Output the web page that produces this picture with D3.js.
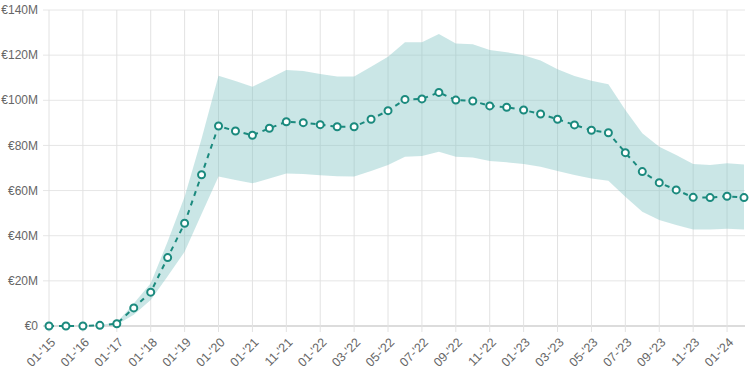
<!DOCTYPE html>
<html>
<head>
<meta charset="utf-8">
<script src="https://cdn.jsdelivr.net/npm/d3@7"></script>
<style>
  body { margin: 0; background: #fff; font-family: "Liberation Sans", Arial, sans-serif; }
  .tick-label { font-size: 12px; fill: #666; }
</style>
</head>
<body>
<script>
var categories = ["01-'15","07-'15","01-'16","07-'16","01-'17","07-'17","01-'18","07-'18","01-'19","07-'19",
  "01-'20","07-'20","01-'21","07-'21","11-'21","12-'21","01-'22","02-'22","03-'22","04-'22",
  "05-'22","06-'22","07-'22","08-'22","09-'22","10-'22","11-'22","12-'22","01-'23","02-'23",
  "03-'23","04-'23","05-'23","06-'23","07-'23","08-'23","09-'23","10-'23","11-'23","12-'23",
  "01-'24","02-'24"];

// millions of euro
var mean = [0,0,0,0.3,1,8,15,30.3,45.5,67,
  88.6,86.4,84.5,87.6,90.5,90.1,89.2,88.3,88.3,91.6,
  95.4,100.4,100.6,103.5,100.1,99.7,97.5,96.9,95.7,93.9,
  91.6,89.1,86.7,85.6,76.8,68.4,63.5,60.3,57.0,56.9,
  57.5,56.9];

var upper = [0,0,0,0.4,1.5,10,18.9,37.4,57.3,83,
  110.9,108.5,106,109.7,113.4,113,111.7,110.5,110.5,114.9,
  119.3,125.7,125.7,129.4,125.2,124.8,122.3,121.3,120,117.6,
  113.7,110.8,108.7,107.1,95.7,85.4,79.4,75.8,71.8,71.3,
  72.1,71.6];

var lower = [0,0,0,0.2,0.6,5,11.5,22,32.9,49.6,
  66.2,64.7,63.2,65.4,67.6,67.3,66.8,66.3,66.2,68.7,
  71.3,75,75.3,77.2,75,74.6,73.1,72.5,71.8,70.6,
  68.7,66.9,65.4,64.4,57.3,50.6,47,44.7,42.8,42.8,
  43.1,42.8];

var yTicks = [0,20,40,60,80,100,120,140];

function chart(){
  var width = 750, height = 374;
  var teal = "#1b8a7e";

  var svg = d3.select("body").append("svg")
      .attr("width", width)
      .attr("height", height);

  var x = d3.scalePoint()
      .domain(categories)
      .range([49, 744]);

  var y = d3.scaleLinear()
      .domain([0, 140])
      .range([326, 10]);

  // horizontal grid
  svg.selectAll(".hgrid")
      .data(yTicks)
    .enter().append("line")
      .attr("class","hgrid")
      .attr("x1", 43)
      .attr("x2", 745)
      .attr("y1", function(d){ return y(d); })
      .attr("y2", function(d){ return y(d); })
      .style("stroke", function(d){ return d === 0 ? "#d0d0d0" : "#e6e6e6"; })
      .style("stroke-width", function(d){ return d === 0 ? 1.5 : 1; });

  // vertical grid, every other category
  var shown = categories.filter(function(d,i){ return i % 2 === 0; });
  svg.selectAll(".vgrid")
      .data(shown)
    .enter().append("line")
      .attr("class","vgrid")
      .attr("x1", function(d){ return x(d); })
      .attr("x2", function(d){ return x(d); })
      .attr("y1", 10)
      .attr("y2", 332)
      .style("stroke", "#e2e2e2")
      .style("stroke-width", 1);

  // y labels
  svg.selectAll(".ylab")
      .data(yTicks)
    .enter().append("text")
      .attr("class","tick-label")
      .attr("text-anchor","end")
      .attr("x", 38)
      .attr("y", function(d){ return y(d); })
      .attr("dy", "0.35em")
      .text(function(d){ return d === 0 ? "€0" : "€" + d + "M"; });

  // x labels
  svg.selectAll(".xlab")
      .data(shown)
    .enter().append("text")
      .attr("class","tick-label")
      .style("font-size", "12.5px")
      .attr("text-anchor","end")
      .attr("transform", function(d){
        return "translate(" + (x(d) + 4) + ",340)rotate(-45)";
      })
      .attr("dy", "0.35em")
      .text(String);

  // band
  var area = d3.area()
      .x(function(d,i){ return x(categories[i]); })
      .y0(function(d,i){ return y(lower[i]); })
      .y1(function(d,i){ return y(upper[i]); });

  svg.append("path")
      .datum(mean)
      .attr("d", area)
      .style("fill", "rgba(128,195,195,0.42)")
      .style("stroke", "none");

  // mean line
  var line = d3.line()
      .x(function(d,i){ return x(categories[i]); })
      .y(function(d){ return y(d); });

  svg.append("path")
      .datum(mean)
      .attr("d", line)
      .style("fill", "none")
      .style("stroke", teal)
      .style("stroke-width", 2)
      .style("stroke-dasharray", "5,5");

  svg.selectAll(".pt")
      .data(mean)
    .enter().append("circle")
      .attr("class","pt")
      .attr("cx", function(d,i){ return x(categories[i]); })
      .attr("cy", function(d){ return y(d); })
      .attr("r", 3.5)
      .style("fill", "#fff")
      .style("stroke", teal)
      .style("stroke-width", 2);
}

chart();
</script>
</body>
</html>
